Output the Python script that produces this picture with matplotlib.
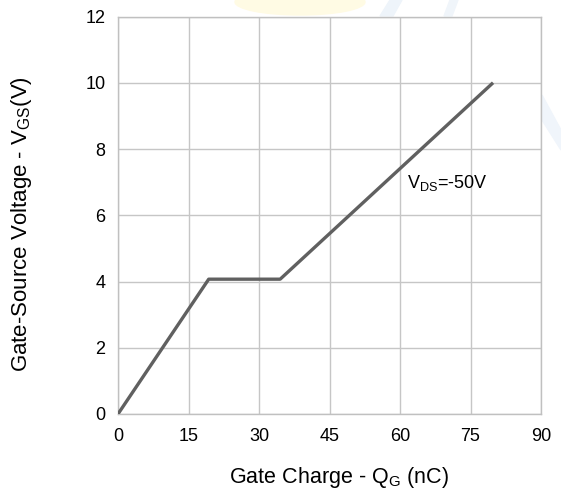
import matplotlib
matplotlib.use("Agg")
import matplotlib.pyplot as plt
from matplotlib.patches import Ellipse, Polygon

plt.rcParams['font.family'] = ['Liberation Sans', 'DejaVu Sans']

qg = [0, 19.3, 34.5, 79.8]
vgs = [0, 4.07, 4.07, 10.0]
xticks = [0, 15, 30, 45, 60, 75, 90]
yticks = [0, 2, 4, 6, 8, 10, 12]

W, H = 561, 491
fig = plt.figure(figsize=(W/100, H/100), dpi=100)

# faint watermark behind the axes
wm_kw = dict(transform=fig.transFigure, zorder=0)
fig.patches.append(Ellipse((300/W, 1-2/H), 130/W, 26/H, color='#fffbe4', **wm_kw))
fig.patches.append(Polygon([(380/W, 1-16/H), (393/W, 1-16/H), (402/W, 1.0), (390/W, 1.0)],
                           closed=True, color='#eef4fa', **wm_kw))
fig.patches.append(Polygon([(444/W, 1-16/H), (452/W, 1-16/H), (458/W, 1.0), (450/W, 1.0)],
                           closed=True, color='#f0f5fa', **wm_kw))
fig.patches.append(Polygon([(542/W, 1-95/H), (561/W, 1-130/H), (561/W, 1-150/H), (542/W, 1-120/H)],
                           closed=True, color='#f0f5fb', **wm_kw))

ax = fig.add_axes([118/W, 1-414/H, (541-118)/W, (414-16.5)/H])
ax.set_facecolor('white')
ax.set_zorder(2)
ax.plot(qg, vgs, color='#606060', lw=2.4, solid_capstyle='butt', zorder=3)
ax.set_xlim(0, 90)
ax.set_ylim(0, 12)
ax.set_xticks(xticks)
ax.set_yticks(yticks)
ax.grid(True, color='#c6c6c6', lw=1.0)
for s in ax.spines.values():
    s.set_color('#c0c0c0')
    s.set_linewidth(1.0)
ax.tick_params(length=0, labelsize=13, colors='black')
ax.tick_params(axis='x', pad=10)
ax.tick_params(axis='y', pad=9)
fig.text(339/W, 1-477/H, 'Gate Charge - Q$_\\mathregular{G}$ (nC)', fontsize=15.5,
         ha='center', va='center')
fig.text(22/W, 1-224/H, 'Gate-Source Voltage - V$_\\mathregular{GS}$(V)', fontsize=16,
         ha='center', va='center', rotation=90)
ax.text(61.5, 6.98, 'V$_\\mathregular{DS}$=-50V', fontsize=13, va='center', ha='left')
fig.savefig('out.png', dpi=100)
